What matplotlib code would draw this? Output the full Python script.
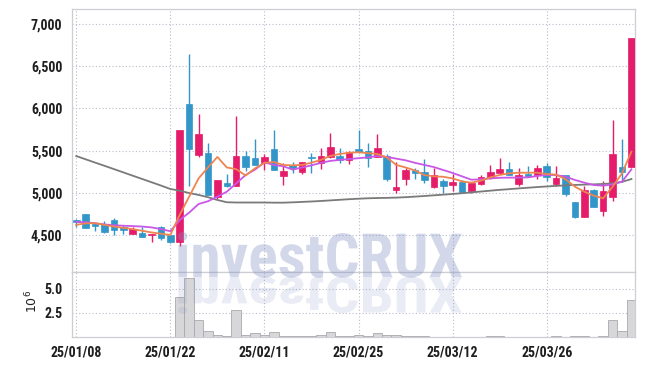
import matplotlib
matplotlib.use("Agg")
import matplotlib.pyplot as plt
from matplotlib.textpath import TextPath
from matplotlib.patches import PathPatch
from matplotlib.font_manager import FontProperties
from matplotlib.ticker import FuncFormatter
import matplotlib.transforms as mtransforms

# trading days 2025-01-08 .. 2025-04-08
dates = ["25/01/08", "25/01/09", "25/01/10", "25/01/13", "25/01/14", "25/01/15",
         "25/01/16", "25/01/17", "25/01/20", "25/01/21", "25/01/22", "25/01/23",
         "25/01/24", "25/01/31", "25/02/03", "25/02/04", "25/02/05", "25/02/06",
         "25/02/07", "25/02/10", "25/02/11", "25/02/12", "25/02/13", "25/02/14",
         "25/02/17", "25/02/18", "25/02/19", "25/02/20", "25/02/21", "25/02/24",
         "25/02/25", "25/02/26", "25/02/27", "25/02/28", "25/03/04", "25/03/05",
         "25/03/06", "25/03/07", "25/03/10", "25/03/11", "25/03/12", "25/03/13",
         "25/03/14", "25/03/17", "25/03/18", "25/03/19", "25/03/20", "25/03/21",
         "25/03/24", "25/03/25", "25/03/26", "25/03/27", "25/03/28", "25/03/31",
         "25/04/01", "25/04/02", "25/04/03", "25/04/04", "25/04/07", "25/04/08"]

opens = [4675, 4745, 4635, 4625, 4675, 4595, 4515, 4525, 4505, 4600,
         4500, 4420, 6050, 5450, 5470, 4955, 5115, 5080, 5435, 5410,
         5355, 5520, 5200, 5330, 5250, 5420, 5350, 5430, 5435, 5390,
         5520, 5500, 5430, 5435, 5030, 5160, 5270, 5245, 5065, 5140,
         5095, 5130, 5020, 5110, 5170, 5240, 5280, 5105, 5225, 5215,
         5320, 5105, 5205, 4890, 4715, 5035, 4790, 4945, 5310, 5310]
highs = [4695, 4750, 4640, 4660, 4700, 4615, 4600, 4590, 4515, 4605,
         4505, 5745, 6650, 5930, 5590, 5155, 5225, 5905, 5500, 5640,
         5460, 5745, 5355, 5365, 5370, 5470, 5525, 5705, 5525, 5490,
         5750, 5585, 5695, 5455, 5365, 5295, 5290, 5400, 5295, 5160,
         5225, 5150, 5125, 5210, 5335, 5410, 5360, 5295, 5320, 5335,
         5355, 5320, 5210, 4895, 5085, 5050, 5145, 5860, 5635, 6840]
lows = [4600, 4580, 4550, 4520, 4500, 4515, 4510, 4480, 4420, 4440,
        4400, 4370, 5080, 5430, 4970, 4930, 5070, 5075, 5260, 5325,
        5270, 5265, 5090, 5230, 5225, 5240, 5280, 5410, 5355, 5340,
        5470, 5310, 5420, 5145, 5000, 5095, 5160, 5115, 5060, 5000,
        5020, 4995, 5000, 5090, 5165, 5235, 5205, 5075, 5195, 5165,
        5145, 5080, 4965, 4705, 4710, 4830, 4725, 4900, 5130, 5300]
closes = [4655, 4585, 4610, 4535, 4560, 4565, 4575, 4480, 4515, 4470,
          4420, 5740, 5520, 5700, 4975, 5150, 5075, 5435, 5310, 5335,
          5425, 5270, 5260, 5290, 5365, 5410, 5435, 5540, 5390, 5485,
          5485, 5415, 5530, 5165, 5070, 5270, 5240, 5155, 5205, 5075,
          5130, 5010, 5120, 5185, 5245, 5280, 5210, 5205, 5200, 5295,
          5185, 5175, 4980, 4710, 5035, 4835, 5020, 5460, 5250, 6840]

ma_short = [4620, 4638, 4640, 4620, 4600, 4585, 4570, 4550, 4530, 4515,
            4500, 4740, 4955, 5170, 5300, 5425, 5300, 5280, 5205, 5290,
            5355, 5365, 5330, 5325, 5330, 5357, 5390, 5436, 5460, 5475,
            5480, 5470, 5460, 5420, 5330, 5300, 5265, 5210, 5195, 5190,
            5170, 5135, 5120, 5144, 5183, 5211, 5231, 5238, 5238, 5238,
            5223, 5215, 5160, 5072, 5013, 4966, 4935, 5072, 5231, 5487]
ma_mid = [4655, 4650, 4640, 4625, 4615, 4610, 4605, 4600, 4590, 4570,
          4545, 4678, 4765, 4867, 4900, 4955, 5013, 5112, 5211, 5275,
          5360, 5330, 5315, 5275, 5300, 5325, 5355, 5378, 5390, 5400,
          5410, 5420, 5436, 5425, 5405, 5385, 5355, 5330, 5305, 5270,
          5235, 5195, 5155, 5160, 5170, 5178, 5180, 5180, 5183, 5199,
          5212, 5210, 5191, 5152, 5120, 5092, 5084, 5100, 5132, 5278]
ma_long = [5436, 5397, 5358, 5320, 5281, 5242, 5203, 5164, 5125, 5086,
           5045, 5025, 4997, 4975, 4948, 4915, 4888, 4885, 4885, 4885,
           4885, 4883, 4883, 4887, 4892, 4897, 4903, 4910, 4917, 4924,
           4930, 4935, 4938, 4940, 4943, 4948, 4955, 4962, 4970, 4978,
           4986, 4995, 5005, 5015, 5025, 5035, 5043, 5052, 5060, 5068,
           5075, 5082, 5088, 5093, 5097, 5100, 5105, 5112, 5130, 5163]

# volume in millions
volume = [0.02, 0.02, 0.02, 0.02, 0.02, 0.02, 0.02, 0.02, 0.02, 0.02,
          0.02, 4.17, 6.15, 1.80, 0.65, 0.24, 0.13, 2.84, 0.24, 0.41,
          0.24, 0.52, 0.12, 0.10, 0.12, 0.15, 0.24, 0.52, 0.15, 0.10,
          0.24, 0.15, 0.38, 0.20, 0.24, 0.15, 0.10, 0.10, 0.05, 0.04,
          0.04, 0.04, 0.05, 0.05, 0.10, 0.10, 0.05, 0.04, 0.04, 0.04,
          0.05, 0.10, 0.05, 0.10, 0.10, 0.05, 0.10, 1.80, 0.65, 3.90]

UP = "#e51c69"
DOWN = "#3396c9"
GRID = "#b9bccb"
SPINE = "#cdcdd3"
fam = ["Liberation Sans Narrow", "DejaVu Sans Condensed", "Roboto Condensed",
       "Liberation Sans", "DejaVu Sans"]
plt.rcParams["font.family"] = fam

fig = plt.figure(figsize=(6.45, 3.66), dpi=100)
ax = fig.add_axes([72 / 645, 1 - 271.7 / 366, 563 / 645, 262.7 / 366])
axv = fig.add_axes([72 / 645, 1 - 337 / 366, 563 / 645, 65.3 / 366], sharex=ax)

x = list(range(len(dates)))
colors = [UP if c >= o else DOWN for o, c in zip(opens, closes)]
bottoms = [min(o, c) for o, c in zip(opens, closes)]
heights = [max(abs(c - o), 8) for o, c in zip(opens, closes)]

ax.vlines(x, lows, highs, colors=colors, linewidth=1.0, zorder=3)
ax.bar(x, heights, bottom=bottoms, width=0.7, color=colors, edgecolor=colors,
       linewidth=0.5, zorder=4)
ax.plot(x, ma_long, color="#7a7a7a", linewidth=1.3, zorder=5)
ax.plot(x, ma_mid, color="#c957e8", linewidth=1.3, zorder=5)
ax.plot(x, ma_short, color="#ee8550", linewidth=1.3, zorder=5)

axv.bar(x, volume, width=1.0, color="#d7d7d9", edgecolor="#a9a9ad",
        linewidth=0.6, zorder=3)

tick_idx = [0, 10, 20, 30, 40, 50]
for a in (ax, axv):
    a.set_xlim(-0.45, 59.38)
    a.set_xticks(tick_idx)
    a.grid(True, color=GRID, linestyle=(0, (1, 2)), linewidth=0.8)
    a.set_axisbelow(True)
    for s in a.spines.values():
        s.set_color(SPINE)
        s.set_linewidth(0.9)
    a.tick_params(length=0, labelsize=10, colors="#1e1e1e", pad=7)
    for lab in a.get_xticklabels() + a.get_yticklabels():
        lab.set_fontweight("bold")

ax.set_ylim(4065, 7178)
ax.set_yticks([4500, 5000, 5500, 6000, 6500, 7000])
ax.yaxis.set_major_formatter(FuncFormatter(lambda v, p: f"{int(v):,}"))
ax.tick_params(axis="x", labelbottom=False)

axv.set_ylim(0, 6.8)
axv.set_yticks([2.5, 5.0])
axv.set_yticklabels(["2.5", "5.0"], fontweight="bold")
axv.set_xticklabels([dates[i] for i in tick_idx], fontweight="bold")
axv.tick_params(axis="x", pad=6)
for lab in ax.get_yticklabels():
    lab.set_fontweight("bold")
fig.text(32 / 645, 1 - 301 / 366, r"$10^6$", rotation=90, ha="center",
         va="center", fontsize=9, color="#1e1e1e")

# watermark and its reflection, squeezed to the reference footprint
fp = FontProperties(family=fam, weight="bold")
tp = TextPath((0, 0), "investCRUX", size=60, prop=fp)
ext = tp.get_extents()
sx = 284 / ext.width
sy = 45 / ext.y1
wm = PathPatch(tp, facecolor="#8090c0", edgecolor="none", alpha=0.35, zorder=10,
               transform=mtransforms.Affine2D().translate(-ext.x0, 0)
               .scale(sx, sy).translate(178, 366 - 277))
fig.add_artist(wm)
rf = PathPatch(tp, facecolor="#8090c0", edgecolor="none", alpha=0.17, zorder=10,
               transform=mtransforms.Affine2D().translate(-ext.x0, 0)
               .scale(sx, -sy * 0.82).translate(178, 366 - 277))
fig.add_artist(rf)

fig.savefig("out.png", dpi=100)
